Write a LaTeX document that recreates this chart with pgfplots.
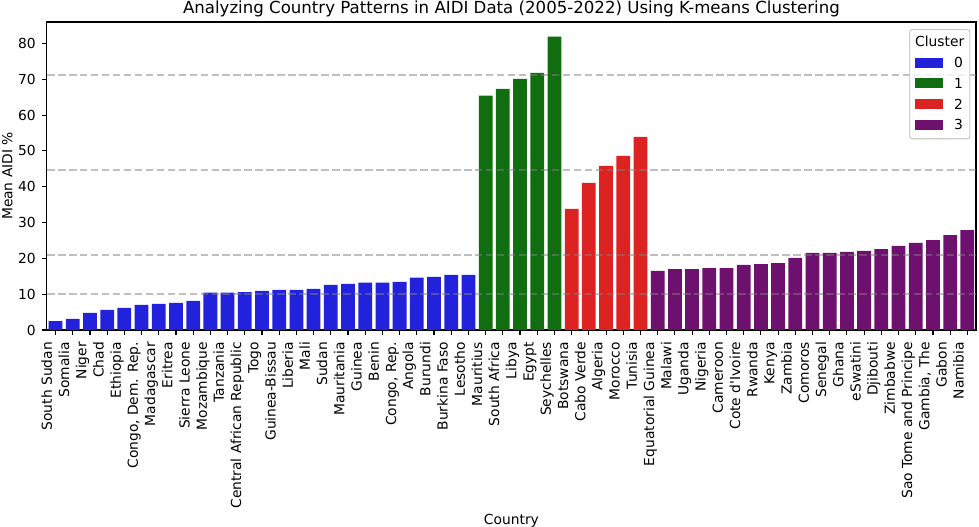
\documentclass[border=0pt]{standalone}
\usepackage{fontspec}
\setmainfont{DejaVu Sans}
\usepackage{pgfplots}
\pgfplotsset{compat=1.18}
\usepackage{pgfplotstable}
\definecolor{c0}{RGB}{34,34,221}
\definecolor{c1}{RGB}{16,110,16}
\definecolor{c2}{RGB}{221,34,34}
\definecolor{c3}{RGB}{110,16,110}
\pgfplotstableread{
x y
0 2.5
1 3.1
2 4.8
3 5.6
4 6.2
5 7.0
6 7.3
7 7.6
8 8.1
9 10.4
10 10.4
11 10.6
12 10.9
13 11.2
14 11.2
15 11.5
16 12.6
17 12.9
18 13.2
19 13.2
20 13.4
21 14.6
22 14.8
23 15.4
24 15.4
}\clusterA
\pgfplotstableread{
x y
25 65.4
26 67.3
27 70.1
28 71.8
29 81.9
}\clusterB
\pgfplotstableread{
x y
30 33.8
31 41.1
32 45.8
33 48.6
34 53.9
}\clusterC
\pgfplotstableread{
x y
35 16.5
36 17.0
37 17.0
38 17.3
39 17.3
40 18.2
41 18.4
42 18.7
43 20.1
44 21.5
45 21.5
46 21.8
47 22.1
48 22.6
49 23.5
50 24.3
51 25.1
52 26.5
53 27.9
}\clusterD
\begin{document}
\begin{tikzpicture}
\path[use as bounding box] (-33.8bp,-141.8bp) rectangle (671.1bp,237.6bp);
\begin{axis}[
  at={(0,0)}, anchor=south west,
  scale only axis, width=668.9bp, height=221.8bp,
  xmin=-0.5, xmax=53.5, ymin=0, ymax=86,
  xtick={0,...,53},
  xticklabels={South Sudan, Somalia, Niger, Chad, Ethiopia, {Congo, Dem. Rep.}, Madagascar, Eritrea, Sierra Leone, Mozambique, Tanzania, Central African Republic, Togo, Guinea-Bissau, Liberia, Mali, Sudan, Mauritania, Guinea, Benin, {Congo, Rep.}, Angola, Burundi, Burkina Faso, Lesotho, Mauritius, South Africa, Libya, Egypt, Seychelles, Botswana, Cabo Verde, Algeria, Morocco, Tunisia, Equatorial Guinea, Malawi, Uganda, Nigeria, Cameroon, {Cote d\textquotesingle{}Ivoire}, Rwanda, Kenya, Zambia, Comoros, Senegal, Ghana, eSwatini, Djibouti, Zimbabwe, Sao Tome and Principe, {Gambia, The}, Gabon, Namibia},
  ytick={0,10,...,80},
  tick align=outside, tick pos=left,
  major tick length=3.5bp,
  tick style={black, line width=0.8bp},
  axis line style={black, line width=0.8bp},
  /pgf/number format/assume math mode=true,
  xticklabel style={rotate=90, anchor=south east, inner sep=0pt, text depth=2.4bp, font=\fontsize{10}{12}\selectfont},
  yticklabel style={anchor=east, inner sep=0pt, font=\fontsize{10}{12}\selectfont},
  xticklabel shift=5bp, yticklabel shift=4.4bp,
  title={Analyzing Country Patterns in AIDI Data (2005-2022) Using K-means Clustering},
  title style={at={(axis description cs:0.5,1.0)}, anchor=base, inner sep=0pt, font=\fontsize{12}{14.4}\selectfont},
  xlabel={Country},
  xlabel style={at={(axis description cs:0.5,-0.63)}, anchor=base, inner sep=0pt, font=\fontsize{10}{12}\selectfont},
  ylabel={Mean AIDI \%},
  ylabel style={at={(axis description cs:-0.0425,0.5)}, anchor=center, inner sep=0pt, font=\fontsize{10}{12}\selectfont},
]
\addplot[ybar, bar width=0.8, bar shift=0pt, fill=c0, draw=none] table[x=x,y=y]{\clusterA};
\addplot[ybar, bar width=0.8, bar shift=0pt, fill=c1, draw=none] table[x=x,y=y]{\clusterB};
\addplot[ybar, bar width=0.8, bar shift=0pt, fill=c2, draw=none] table[x=x,y=y]{\clusterC};
\addplot[ybar, bar width=0.8, bar shift=0pt, fill=c3, draw=none] table[x=x,y=y]{\clusterD};
\addplot[no marks, color=black!50, opacity=0.5, line width=1.4bp, dash pattern=on 5.5bp off 2.4bp] coordinates {(-0.5,10.16) (53.5,10.16)};
\addplot[no marks, color=black!50, opacity=0.5, line width=1.4bp, dash pattern=on 5.5bp off 2.4bp] coordinates {(-0.5,71.3) (53.5,71.3)};
\addplot[no marks, color=black!50, opacity=0.5, line width=1.4bp, dash pattern=on 5.5bp off 2.4bp] coordinates {(-0.5,44.64) (53.5,44.64)};
\addplot[no marks, color=black!50, opacity=0.5, line width=1.4bp, dash pattern=on 5.5bp off 2.4bp] coordinates {(-0.5,20.9) (53.5,20.9)};
\node[anchor=north east, draw=black!20, line width=0.8bp, rounded corners=2bp, fill=white, fill opacity=0.8, text opacity=1, inner xsep=4bp, inner ysep=2bp, xshift=-4bp, yshift=-5bp, font=\fontsize{10}{12}\selectfont] at (rel axis cs:1,1) {\renewcommand{\arraystretch}{1.25}\begin{tabular}{@{}l@{\hspace{8bp}}l@{}}\multicolumn{2}{@{}c@{}}{Cluster}\\ \textcolor{c0}{\rule{20bp}{7.2bp}} & 0\\ \textcolor{c1}{\rule{20bp}{7.2bp}} & 1\\ \textcolor{c2}{\rule{20bp}{7.2bp}} & 2\\ \textcolor{c3}{\rule{20bp}{7.2bp}} & 3\end{tabular}};
\end{axis}
\end{tikzpicture}
\end{document}
